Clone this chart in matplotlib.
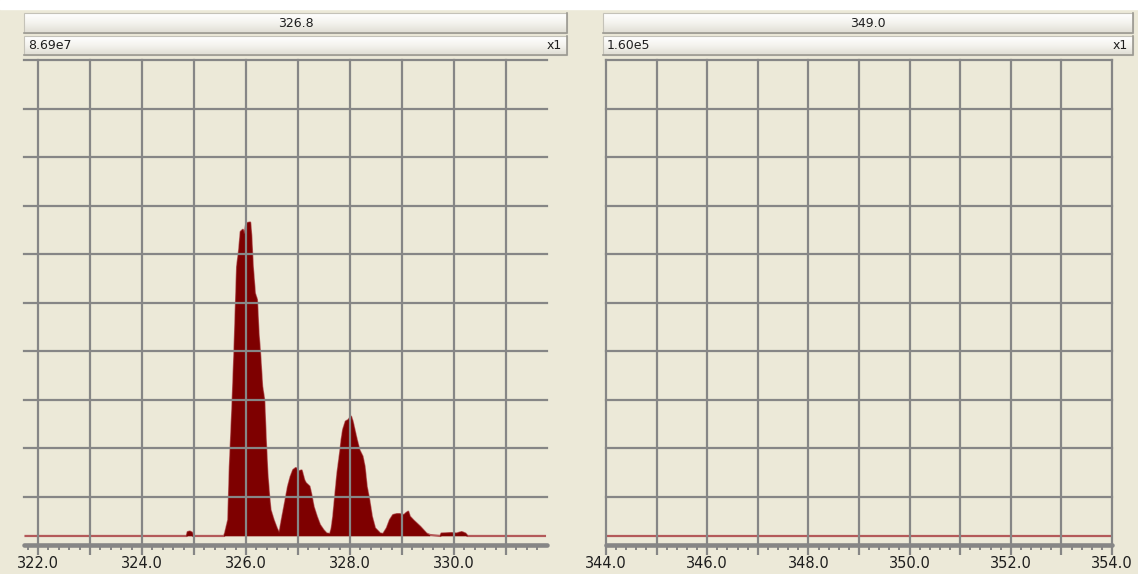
import numpy as np
import matplotlib.pyplot as plt
from matplotlib.patches import Rectangle
from matplotlib.colors import LinearSegmentedColormap
from matplotlib.ticker import MultipleLocator, FuncFormatter

W, H = 1138, 574
BG = '#ECE9D8'
GRID = '#868686'
FILL = '#7E0000'
BASE = '#B45A5A'
TXT = '#1E1E1E'

# left trace: m/z and intensity in % of full scale (8.69e7)
mz_a = [321.76, 324.86, 324.88, 324.92, 324.96, 324.98, 325.58,
        325.60, 325.66, 325.69, 325.74, 325.78, 325.81, 325.83, 325.87,
        325.90, 325.94, 325.97, 326.00, 326.03, 326.08, 326.10, 326.13,
        326.17, 326.21, 326.24, 326.27, 326.31, 326.35, 326.38, 326.41,
        326.44, 326.47, 326.53, 326.59, 326.64,
        326.65, 326.69, 326.75, 326.81, 326.86, 326.91, 326.96, 327.01,
        327.07, 327.12, 327.15, 327.22, 327.25, 327.30, 327.36, 327.42,
        327.49, 327.55, 327.62,
        327.65, 327.68, 327.71, 327.76, 327.81, 327.84, 327.87, 327.92,
        327.97, 328.02, 328.05, 328.10, 328.13, 328.18, 328.24, 328.28,
        328.32, 328.37, 328.42, 328.48, 328.58, 328.64,
        328.71, 328.77, 328.83, 328.90, 328.96, 329.04, 329.08, 329.12,
        329.15, 329.22, 329.28, 329.35, 329.41, 329.47, 329.54,
        329.74, 329.76, 329.95, 330.05, 330.15, 330.22, 330.26, 331.75]
int_a = [0.0, 0.0, 0.8, 0.9, 0.7, 0.0, 0.0,
         0.6, 3.3, 14.3, 26.7, 38.4, 48.7, 55.5, 59.0,
         62.7, 63.1, 61.8, 64.0, 64.5, 64.6, 62.0, 55.5,
         50.0, 48.7, 41.8, 37.7, 30.8, 28.0, 19.8, 12.9,
         8.8, 5.4, 3.3, 1.6, 0.5,
         0.9, 3.3, 6.7, 10.2, 12.2, 13.6, 14.0, 13.3,
         13.5, 11.5, 10.9, 10.2, 8.8, 6.0, 4.0, 2.3,
         1.2, 0.5, 0.4,
         1.6, 4.0, 7.4, 12.9, 17.0, 19.8, 21.9, 23.6,
         23.9, 24.6, 23.6, 21.2, 19.8, 17.7, 16.4, 14.3,
         10.2, 7.4, 4.0, 1.6, 0.5, 0.4,
         1.6, 3.3, 4.3, 4.5, 4.5, 4.3, 4.7, 5.0,
         4.0, 3.2, 2.6, 1.9, 1.2, 0.5, 0.2,
         0.0, 0.5, 0.6, 0.5, 0.8, 0.5, 0.0, 0.0]

# right trace: flat at 1.60e5 full scale
mz_b = [344.0, 354.0]
int_b = [0.0, 0.0]

titles = ['326.8', '349.0']
scales = ['8.69e7', '1.60e5']

YLO, YHI = -1.86, 98.1

fig = plt.figure(figsize=(W / 100, H / 100), dpi=100, facecolor=BG)
plt.rcParams['font.family'] = 'DejaVu Sans'


def px_axes(x0, y0, x1, y1):
    return fig.add_axes([x0 / W, 1 - y1 / H, (x1 - x0) / W, (y1 - y0) / H])


bar_cmap = LinearSegmentedColormap.from_list('bar', ['#FFFFFF', '#F4F3EE', '#E0DED4'])


def header(x0, x1, y0, y1, center=None, left=None, right=None):
    hax = px_axes(x0, y0, x1, y1)
    grad = np.linspace(0, 1, 32)[:, None]
    hax.imshow(grad, aspect='auto', cmap=bar_cmap, extent=[0, 1, 0, 1], origin='upper')
    hax.set_xlim(0, 1)
    hax.set_ylim(0, 1)
    hax.axis('off')
    hax.add_patch(Rectangle((0, 0), 1, 1, transform=hax.transAxes, fill=False,
                            ec='#C4C2B8', lw=0.8, clip_on=False))
    hax.plot([0, 1, 1], [0, 0, 1], color='#9C9A92', lw=1.2,
             transform=hax.transAxes, clip_on=False)
    if center:
        hax.text(0.5, 0.48, center, ha='center', va='center', fontsize=9, color=TXT)
    if left:
        hax.text(4 / (x1 - x0), 0.48, left, ha='left', va='center', fontsize=9, color=TXT)
    if right:
        hax.text(1 - 5 / (x1 - x0), 0.48, right, ha='right', va='center', fontsize=9, color=TXT)


def panel(ax, mz, inten, lo, hi, xmin, xmax):
    ax.set_facecolor(BG)
    ax.set_xlim(xmin, xmax)
    ax.set_ylim(YLO, YHI)
    ax.plot(mz, inten, color=BASE, lw=1.6, zorder=2)
    ax.fill_between(mz, 0, inten, where=np.array(inten) > 0.3, interpolate=True,
                    color=FILL, lw=0.5, zorder=3)
    for v in range(lo, hi + 1):
        ax.axvline(v, color=GRID, lw=1.6, zorder=4, clip_on=False)
    for h in np.linspace(YLO, YHI, 11)[1:]:
        ax.axhline(h, color=GRID, lw=1.6, zorder=4, clip_on=False)
    for s in ['top', 'left', 'right']:
        ax.spines[s].set_visible(False)
    sp = ax.spines['bottom']
    sp.set_color(GRID)
    sp.set_linewidth(3.3)
    sp.set_capstyle('round')
    sp.set_zorder(5)
    ax.set_yticks([])
    ax.xaxis.set_major_locator(MultipleLocator(1))
    ax.xaxis.set_minor_locator(MultipleLocator(0.2))
    ax.xaxis.set_major_formatter(FuncFormatter(
        lambda v, p: f'{v:.1f}' if round(v) % 2 == 0 else ''))
    ax.tick_params(axis='x', which='major', direction='out', length=7.5, width=1.6,
                   color=GRID, labelsize=10.5, labelcolor=TXT, pad=0.5)
    ax.tick_params(axis='x', which='minor', direction='out', length=3.5, width=1.4,
                   color=GRID)


# white strip along the top edge
fig.patches.append(Rectangle((0, 1 - 9 / H), 1, 9 / H, transform=fig.transFigure,
                             color='white', zorder=0))

ax1 = px_axes(24, 60, 547, 545)
panel(ax1, mz_a, int_a, 322, 331, 321.73, 331.79)
header(24, 567, 13, 33, center=titles[0])
header(24, 567, 36, 55, left=scales[0], right='x1')

ax2 = px_axes(606, 60, 1112, 545)
panel(ax2, mz_b, int_b, 344, 354, 344.0, 354.0)
header(603, 1133, 13, 33, center=titles[1])
header(603, 1133, 36, 55, left=scales[1], right='x1')

fig.savefig('out.png', dpi=100, facecolor=BG)
